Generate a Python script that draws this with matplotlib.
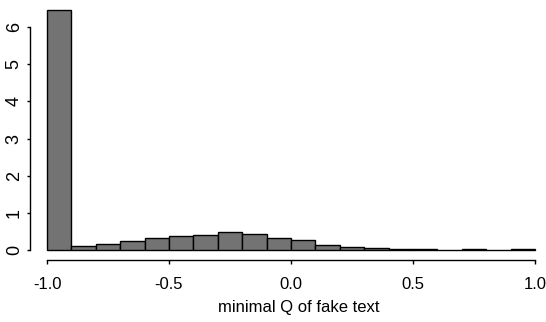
import matplotlib.pyplot as plt
import matplotlib.transforms as mtransforms
import numpy as np

# histogram (density) of minimal Q, bins of width 0.1 from -1 to 1
bin_edges = [-1.0, -0.9, -0.8, -0.7, -0.6, -0.5, -0.4, -0.3, -0.2, -0.1, 0.0,
             0.1, 0.2, 0.3, 0.4, 0.5, 0.6, 0.7, 0.8, 0.9, 1.0]
density = [6.45, 0.10, 0.17, 0.25, 0.33, 0.37, 0.41, 0.49, 0.44, 0.33,
           0.28, 0.14, 0.07, 0.06, 0.02, 0.02, 0.01, 0.02, 0.01, 0.04]
xticks = [-1.0, -0.5, 0.0, 0.5, 1.0]
xtick_labels = ['-1.0', '-0.5', '0.0', '0.5', '1.0']
yticks = [0, 1, 2, 3, 4, 5, 6]
xlabel = 'minimal Q of fake text'

W, H = 546, 322
fig = plt.figure(figsize=(W / 100, H / 100), dpi=100)
# axes box: left at x=30px, bottom at y=260px, top at y=0
ax = fig.add_axes([30 / W, (H - 260) / H, (W - 30) / W, 260 / H])

edges = np.array(bin_edges)
ax.bar(edges[:-1], density, width=np.diff(edges), align='edge',
       color='#737373', edgecolor='black', linewidth=1.0)

# data -> pixel: -1 at 47px, 1 at 535px ; 0 at y=250, 6 at y=27
xs = (535 - 47) / 2.0
ax.set_xlim(-1 - (47 - 30) / xs, 1 + (W - 535) / xs)
ys = (250 - 27) / 6.0
ax.set_ylim(-(260 - 250) / ys, 250 / ys)

for s in ['top', 'right']:
    ax.spines[s].set_visible(False)
ax.spines['left'].set_bounds(0, 6)
ax.spines['bottom'].set_bounds(-1, 1)
ax.spines['left'].set_linewidth(1.0)
ax.spines['bottom'].set_linewidth(1.0)

ax.set_xticks(xticks)
ax.set_xticklabels(xtick_labels, fontsize=12, family='Liberation Sans')
ax.set_yticks(yticks)
ax.set_yticklabels([str(v) for v in yticks], fontsize=13, family='Liberation Sans',
                   rotation=90, va='center')
ax.tick_params(axis='x', direction='out', length=3, width=1.0, pad=9)
ax.tick_params(axis='y', direction='out', length=2.2, width=1.0, pad=3)

ax.set_xlabel(xlabel, fontsize=12, family='Liberation Sans')
trans = mtransforms.blended_transform_factory(ax.transData, fig.transFigure)
ax.xaxis.set_label_coords(0.03, (H - 300) / H, transform=trans)
ax.xaxis.label.set_va('top')

fig.savefig('out.png', dpi=100)
